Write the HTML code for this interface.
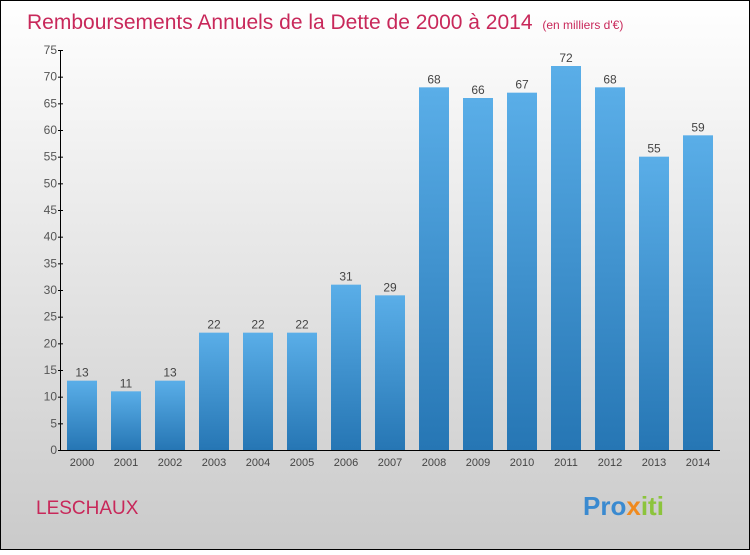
<!DOCTYPE html>
<html><head><meta charset="utf-8"><style>
body{margin:0;width:750px;height:550px;overflow:hidden}
svg text{font-family:"Liberation Sans",sans-serif}
</style></head><body>
<svg width="750" height="550">
<defs>
<linearGradient id="bg" x1="0" y1="0" x2="0" y2="1"><stop offset="0" stop-color="#ffffff"/><stop offset="1" stop-color="#cacaca"/></linearGradient>
<linearGradient id="bar" x1="0" y1="0" x2="0" y2="1"><stop offset="0" stop-color="#5aaee8"/><stop offset="1" stop-color="#2676b4"/></linearGradient>
</defs>
<rect x="0.5" y="0.5" width="749" height="549" fill="url(#bg)" stroke="#000"/>
<text x="27" y="29" font-size="21" fill="#c8285a">Remboursements Annuels de la Dette de 2000 à 2014 <tspan font-size="12" dx="4">(en milliers d'€)</tspan></text>
<text x="36" y="514" font-size="19" fill="#c8285a">LESCHAUX</text>
<text x="583" y="515" font-size="26" font-weight="bold" fill="#3a8ad0">Pro<tspan fill="#f08a1e">x</tspan><tspan fill="#8cc43c">iti</tspan></text>
<g id="plot"></g>
</svg>
<script>
const categories=["2000","2001","2002","2003","2004","2005","2006","2007","2008","2009","2010","2011","2012","2013","2014"];
const values=[13,11,13,22,22,22,31,29,68,66,67,72,68,55,59];
const yTicks=[0,5,10,15,20,25,30,35,40,45,50,55,60,65,70,75];
const NS="http://www.w3.org/2000/svg";
const g=document.getElementById('plot');
const y=v=>450-v*400/75;
const x=i=>82+i*44;
function el(t,a,txt){const e=document.createElementNS(NS,t);for(const k in a)e.setAttribute(k,a[k]);if(txt!=null)e.textContent=txt;g.appendChild(e);return e;}
let ax=el('line',{x1:60.5,y1:50,x2:60.5,y2:450.5,stroke:'#000'});


let bx=el('line',{x1:60,y1:450.5,x2:720,y2:450.5,stroke:'#000'});


yTicks.forEach(t=>{
 let l=el('line',{x1:58,x2:63,y1:y(t)+0.5,y2:y(t)+0.5,stroke:'#000'});
 
 
 let tx=el('text',{x:57,y:y(t)+4,'text-anchor':'end','font-size':12,fill:'#555'},t);
 
 
});
categories.forEach((c,i)=>{
 const v=values[i];
 let r=el('rect',{x:x(i)-15,y:y(v),width:30,height:450-y(v),fill:'url(#bar)'});
 
 
 let lb=el('text',{x:x(i),y:y(v)-4,'text-anchor':'middle','font-size':12,fill:'#444'},v);
 
 
 let xl=el('text',{x:x(i),y:466,'text-anchor':'middle','font-size':11,fill:'#444'},c);
 
 
});
</script>
</body></html>
